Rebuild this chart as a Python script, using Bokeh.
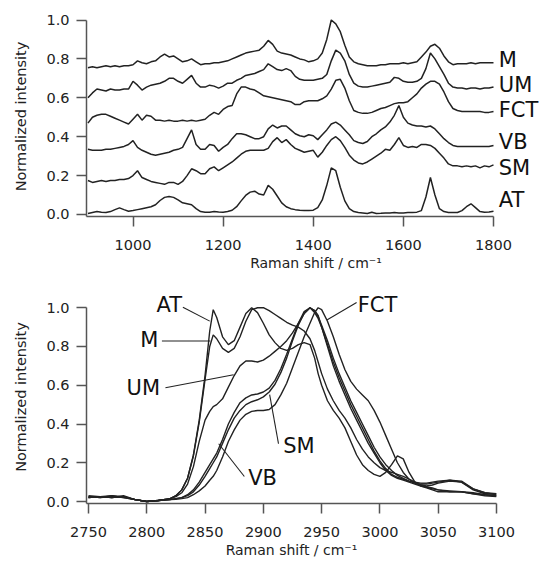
from bokeh.plotting import figure
from bokeh.layouts import column
from bokeh.models import Range1d, FixedTicker, PrintfTickFormatter, Label
from bokeh.embed import file_html
from bokeh.resources import INLINE

# ---------------- top panel data (Raman shift 900-1800, step 10) ----------------
shift_top = list(range(900, 1801, 10))

M_top = [.755, .760, .755, .760, .765, .760, .765, .760, .765, .765,
         .770, .790, .780, .775, .785, .790, .810, .825, .810, .815,
         .800, .785, .790, .800, .785, .770, .775, .775, .780, .780,
         .785, .790, .800, .810, .820, .830, .835, .840, .845, .865,
         .895, .875, .840, .830, .825, .820, .810, .800, .795, .785,
         .790, .800, .830, .900, 1.00, .980, .940, .870, .810, .785,
         .775, .770, .765, .765, .765, .770, .770, .775, .775, .775,
         .780, .775, .780, .785, .810, .835, .865, .875, .855, .815,
         .785, .770, .775, .775, .775, .780, .775, .780, .780, .780,
         .780]
UM_top = [.600, .625, .645, .640, .635, .645, .640, .640, .645, .645,
          .685, .665, .640, .655, .665, .670, .675, .685, .700, .700,
          .685, .675, .695, .715, .675, .655, .655, .665, .660, .650,
          .660, .675, .675, .690, .700, .715, .720, .725, .735, .745,
          .775, .760, .745, .740, .750, .740, .710, .695, .690, .690,
          .690, .695, .700, .720, .790, .845, .830, .790, .720, .675,
          .660, .655, .655, .660, .665, .670, .675, .680, .705, .700,
          .685, .680, .680, .685, .700, .750, .830, .800, .760, .720,
          .675, .655, .650, .650, .645, .650, .650, .645, .650, .650,
          .655]
FCT_top = [.470, .500, .510, .515, .515, .505, .495, .485, .475, .465,
           .490, .515, .485, .510, .505, .485, .485, .480, .485, .480,
           .480, .485, .480, .485, .480, .485, .490, .510, .525, .515,
           .540, .555, .560, .620, .655, .655, .645, .640, .625, .610,
           .605, .600, .595, .590, .585, .580, .565, .565, .580, .585,
           .585, .585, .595, .610, .645, .690, .695, .650, .585, .535,
           .525, .520, .520, .525, .535, .545, .550, .560, .570, .575,
           .575, .580, .600, .620, .650, .670, .685, .685, .670, .630,
           .580, .545, .535, .530, .530, .530, .530, .530, .525, .525,
           .530]
VB_top = [.335, .330, .330, .330, .335, .335, .340, .345, .350, .360,
          .380, .345, .330, .320, .310, .305, .310, .315, .320, .330,
          .335, .345, .390, .435, .360, .335, .335, .360, .355, .325,
          .345, .360, .390, .415, .415, .410, .400, .390, .390, .400,
          .440, .460, .445, .455, .455, .435, .415, .405, .400, .410,
          .405, .385, .410, .435, .465, .475, .460, .435, .410, .380,
          .370, .365, .375, .400, .415, .435, .450, .475, .510, .560,
          .500, .470, .460, .455, .455, .450, .455, .440, .415, .390,
          .370, .355, .350, .350, .350, .350, .350, .350, .350, .350,
          .355]
SM_top = [.175, .165, .170, .175, .170, .175, .175, .180, .180, .185,
          .200, .225, .190, .180, .170, .165, .160, .155, .165, .165,
          .155, .170, .200, .235, .225, .210, .210, .235, .245, .225,
          .240, .255, .270, .290, .310, .325, .330, .330, .330, .330,
          .340, .375, .395, .370, .385, .360, .340, .330, .320, .325,
          .330, .295, .320, .355, .385, .400, .380, .345, .305, .280,
          .265, .260, .270, .285, .300, .315, .335, .330, .360, .395,
          .355, .345, .350, .345, .360, .360, .355, .340, .315, .290,
          .260, .250, .250, .245, .250, .245, .250, .240, .250, .245,
          .255]
AT_top = [.005, .010, .015, .012, .010, .015, .025, .034, .025, .017,
          .020, .025, .030, .035, .040, .050, .072, .088, .092, .088,
          .075, .060, .055, .050, .030, .015, .012, .012, .015, .013,
          .012, .015, .022, .040, .070, .098, .115, .120, .105, .100,
          .150, .130, .095, .060, .040, .030, .025, .022, .020, .020,
          .022, .035, .075, .150, .240, .225, .140, .070, .030, .015,
          .010, .008, .005, .012, .005, .006, .008, .008, .010, .008,
          .008, .010, .010, .012, .020, .090, .190, .100, .030, .015,
          .010, .010, .010, .020, .040, .055, .035, .015, .012, .013,
          .017]

top_names = ["M", "UM", "FCT", "VB", "SM", "AT"]
top_series = [M_top, UM_top, FCT_top, VB_top, SM_top, AT_top]

# ---------------- bottom panel data (C-H stretching region) ----------------
shift_bot = [2750, 2760, 2770, 2780, 2790, 2800, 2810,
             2820, 2825, 2830, 2835, 2840, 2845, 2850, 2854, 2857,
             2860, 2865, 2870, 2875, 2880, 2885, 2890, 2895, 2900,
             2905, 2910, 2915, 2920, 2925, 2930, 2935, 2940, 2944, 2947,
             2950, 2955, 2960, 2965, 2970, 2975, 2980, 2985, 2990, 2995, 3000,
             3005, 3010, 3015, 3020, 3025, 3030, 3035, 3040, 3045, 3050,
             3060, 3070, 3080, 3090, 3100]

AT_bot = [.020, .025, .020, .025, .010, .000, .005,
          .015, .030, .060, .120, .240, .420, .650, .880, .990,
          .950, .850, .810, .830, .900, .970, 1.00, .975, .920,
          .860, .820, .790, .780, .790, .810, .820, .810, .740, .660,
          .600, .520, .470, .430, .380, .310, .240, .190, .160, .140, .130,
          .150, .190, .235, .220, .150, .100, .080, .075, .070, .060,
          .055, .050, .040, .030, .025]
M_bot = [.025, .020, .025, .020, .010, .000, .005,
         .015, .030, .060, .120, .235, .410, .630, .800, .860,
         .840, .790, .770, .790, .850, .930, .990, 1.00, 1.00,
         .985, .965, .945, .925, .910, .900, .880, .840, .780, .720,
         .660, .580, .520, .470, .430, .380, .320, .270, .230, .200, .175,
         .160, .150, .140, .130, .115, .100, .085, .075, .065, .060,
         .050, .050, .045, .035, .030]
UM_bot = [.030, .025, .030, .025, .010, .000, .005,
          .015, .025, .045, .090, .180, .310, .420, .465, .490,
          .500, .530, .590, .650, .700, .725, .725, .720, .730,
          .750, .775, .800, .830, .870, .920, .970, 1.00, .985, .960,
          .900, .800, .700, .620, .550, .480, .420, .360, .300, .250, .200,
          .160, .135, .120, .110, .100, .090, .080, .070, .060, .050,
          .050, .050, .040, .035, .030]
SM_bot = [.020, .025, .020, .030, .010, .000, .005,
          .010, .015, .020, .035, .060, .100, .150, .190, .220,
          .250, .320, .400, .460, .510, .535, .550, .555, .565,
          .585, .625, .685, .760, .840, .920, .980, 1.00, .975, .945,
          .900, .810, .720, .640, .570, .500, .440, .380, .320, .260, .210,
          .170, .140, .125, .115, .105, .100, .095, .095, .100, .105,
          .110, .100, .060, .040, .040]
VB_bot = [.025, .020, .030, .020, .010, .000, .005,
          .010, .015, .020, .030, .050, .085, .130, .170, .200,
          .230, .300, .370, .430, .470, .500, .515, .525, .540,
          .565, .605, .665, .740, .830, .910, .970, 1.00, .985, .955,
          .910, .830, .740, .660, .590, .520, .460, .400, .340, .280, .230,
          .190, .160, .135, .120, .105, .095, .090, .090, .095, .100,
          .110, .105, .065, .045, .035]
FCT_bot = [.020, .025, .020, .025, .010, .000, .005,
           .010, .012, .015, .020, .035, .055, .080, .110, .130,
           .160, .230, .310, .370, .420, .450, .465, .470, .470,
           .475, .500, .550, .610, .690, .770, .850, .920, .975, 1.00,
           .990, .930, .850, .760, .680, .620, .580, .550, .520, .470, .410,
           .340, .270, .200, .150, .115, .095, .085, .080, .085, .095,
           .105, .100, .065, .045, .040]

bot_series = [AT_bot, M_bot, UM_bot, SM_bot, VB_bot, FCT_bot]

for s in top_series:
    assert len(s) == len(shift_top), len(s)
for s in bot_series:
    assert len(s) == len(shift_bot), len(s)

x_ticks_top = [1000, 1200, 1400, 1600, 1800]
x_ticks_bot = [2750, 2800, 2850, 2900, 2950, 3000, 3050, 3100]
y_ticks = [0.0, 0.2, 0.4, 0.6, 0.8, 1.0]

FONT = "DejaVu Sans"
LINE = "#222222"
AXC = "#555555"
TXT = "#111111"
XLABEL = "Raman shift / cm\u207b\u00b9"


def style(p, xticks, xbounds, ybounds, xlabel_standoff):
    p.xaxis.ticker = FixedTicker(ticks=xticks)
    p.yaxis.ticker = FixedTicker(ticks=y_ticks)
    p.yaxis.formatter = PrintfTickFormatter(format="%.1f")
    p.xaxis.bounds = xbounds
    p.yaxis.bounds = ybounds
    p.xgrid.visible = False
    p.ygrid.visible = False
    p.outline_line_color = None
    p.background_fill_color = "white"
    p.border_fill_color = "white"
    for ax in p.axis:
        ax.axis_line_color = AXC
        ax.axis_line_width = 1.5
        ax.major_tick_line_color = AXC
        ax.major_tick_line_width = 1.5
        ax.major_tick_in = 0
        ax.major_tick_out = 10
        ax.minor_tick_line_color = None
        ax.major_label_text_font = FONT
        ax.major_label_text_font_size = "14.5px"
        ax.major_label_text_color = "#222222"
        ax.axis_label_text_font = FONT
        ax.axis_label_text_font_size = "14.5px"
        ax.axis_label_text_font_style = "normal"
        ax.axis_label_text_color = "#222222"
    p.xaxis.axis_label_text_font_size = "14px"
    p.xaxis.major_label_standoff = 13
    p.yaxis.major_label_standoff = 7
    p.yaxis.axis_label = "Normalized intensity"
    p.yaxis.axis_label_standoff = 14
    p.xaxis.axis_label = XLABEL
    p.xaxis.axis_label_standoff = xlabel_standoff


def lab(p, x, y, text, align, size="21px"):
    p.add_layout(Label(x=x, y=y, text=text, text_align=align, text_baseline="middle",
                       text_font=FONT, text_font_size=size, text_color=TXT))


# ---------------- top figure ----------------
p1 = figure(frame_width=459, frame_height=200,
            x_range=Range1d(896.8, 1915.4), y_range=Range1d(-0.0103, 1.018),
            min_border_left=86, min_border_right=2, min_border_top=16, min_border_bottom=64,
            output_backend="svg", toolbar_location=None)
style(p1, x_ticks_top, (896.8, 1800), (-0.0103, 1.0), 2)
for s in top_series:
    p1.line(shift_top, s, line_color=LINE, line_width=1.5)

top_label_y = [0.792, 0.667, 0.535, 0.372, 0.239, 0.072]
for name, ly in zip(top_names, top_label_y):
    lab(p1, 1811.7, ly, name, "left")

# ---------------- bottom figure ----------------
p2 = figure(frame_width=410, frame_height=213,
            x_range=Range1d(2748.3, 3100), y_range=Range1d(-0.0103, 1.089),
            min_border_left=86, min_border_right=49, min_border_top=10, min_border_bottom=59,
            output_backend="svg", toolbar_location=None)
style(p2, x_ticks_bot, (2748.3, 3100), (-0.0103, 1.0), 2)
for s in bot_series:
    p2.line(shift_bot, s, line_color=LINE, line_width=1.4)

# leader lines for the series labels
lead_x0 = [2831, 2813, 2816, 2913, 2883.7, 2980]
lead_y0 = [1.003, 0.828, 0.587, 0.298, 0.129, 1.027]
lead_x1 = [2854, 2854.5, 2874.5, 2905.4, 2861.7, 2954.5]
lead_y1 = [0.931, 0.828, 0.654, 0.552, 0.298, 0.937]
p2.segment(lead_x0, lead_y0, lead_x1, lead_y1, line_color=LINE, line_width=1.1)

lab(p2, 2830.3, 1.012, "AT", "right")
lab(p2, 2810, 0.831, "M", "right")
lab(p2, 2811.4, 0.586, "UM", "right")
lab(p2, 2917, 0.284, "SM", "left")
lab(p2, 2887, 0.121, "VB", "left")
lab(p2, 2981, 1.012, "FCT", "left")

layout = column(p1, p2)
open("out.html", "w").write(file_html(layout, INLINE))
